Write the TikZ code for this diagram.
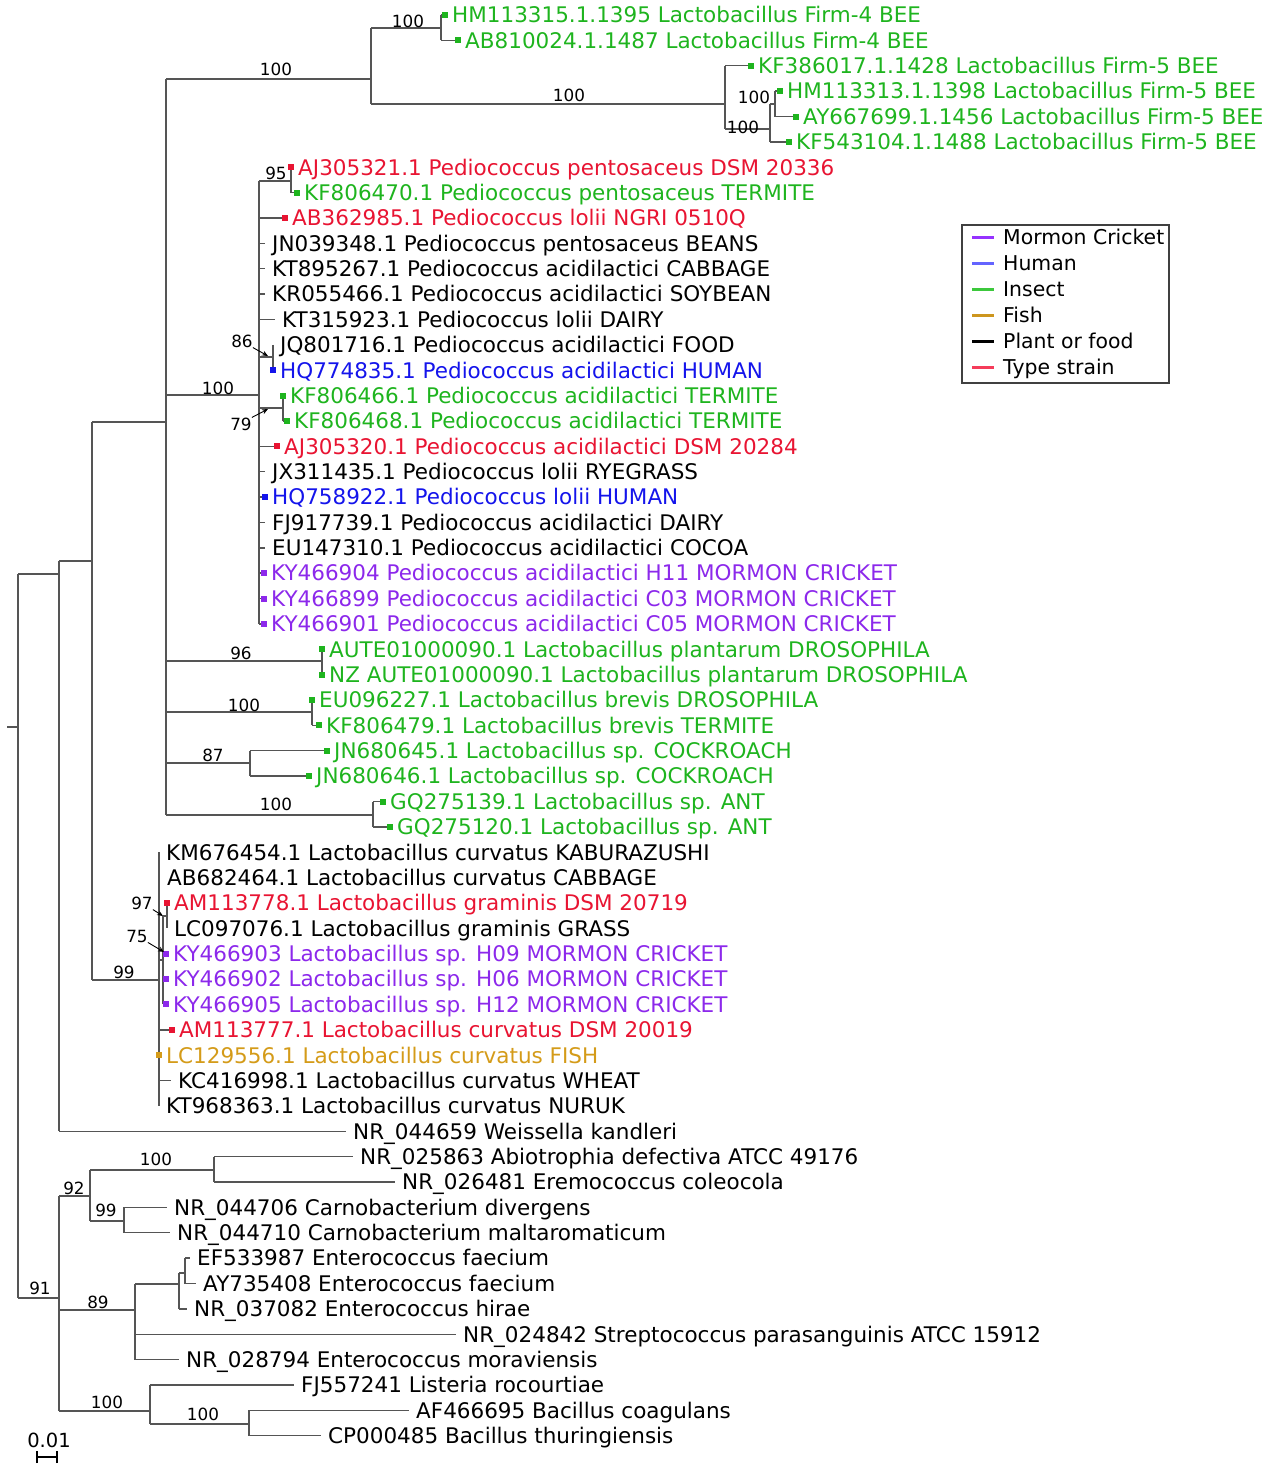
\documentclass[tikz,border=0pt]{standalone}
\usepackage{fontspec}
\setmainfont{DejaVu Sans}
\usetikzlibrary{arrows.meta}
\definecolor{cgreen}{RGB}{30,180,30}
\definecolor{cred}{RGB}{232,20,50}
\definecolor{cblue}{RGB}{20,20,235}
\definecolor{cpurple}{RGB}{140,40,235}
\definecolor{corange}{RGB}{212,155,25}
\definecolor{treegray}{RGB}{85,85,85}
\definecolor{lpurple}{RGB}{150,50,255}
\definecolor{lblue}{RGB}{100,100,255}
\definecolor{lgreen}{RGB}{60,200,60}
\definecolor{lorange}{RGB}{205,150,30}
\definecolor{lred}{RGB}{245,60,90}
\newcommand\leaffont{\fontsize{21.5}{25}\selectfont}
\newcommand\suppfont{\fontsize{16.8}{20}\selectfont}
\newcommand\legfont{\fontsize{20.4}{24}\selectfont}
\newcommand\scalefont{\fontsize{19.5}{22}\selectfont}
\tikzset{
  br/.style={draw=treegray, line width=1.4pt},
  leaflab/.style={anchor=base west, inner sep=0pt, font=\leaffont},
  supp/.style={font=\suppfont, inner sep=0pt, text=black},
  mk/.style={rectangle, inner sep=0pt, minimum size=6pt},
  arr/.style={draw=black, line width=0.9pt, -{Stealth[length=6pt,width=5pt]}},
  legline/.style={line width=3pt},
  leglab/.style={anchor=base west, inner sep=0pt, font=\legfont},
}
% leaf without marker: name, parent, end x, y, colour, text
\newcommand\lfn[6]{%
  \coordinate (#1) at (#3,#4);
  \draw[br] (#2 |- #1) -- (#1);
  \node[leaflab, text=#5] (#1t) at (#3+7,#4+7.8) {#6};}
% leaf with marker
\newcommand\lfm[6]{%
  \coordinate (#1) at (#3,#4);
  \draw[br] (#2 |- #1) -- (#1);
  \node[leaflab, text=#5] (#1t) at (#3+7,#4+7.8) {#6};}
\newcommand\edge[2]{\draw[br] (#1 |- #2) -- (#2);}
\newcommand\vspan[3]{\draw[br] (#1 |- #2) -- (#1 |- #3);}
\newcommand\legent[4]{%
  \coordinate (#1a) at (972,#2);
  \coordinate (#1b) at (994,#2);
  \draw[legline, #3] (#1a) -- (#1b);
  \node[leglab] (#1t) at (1003,#2+7.4) {#4};}
\begin{document}
\begin{tikzpicture}[x=1pt,y=-1pt]
\useasboundingbox (0,0) rectangle (1267,1470);
% internal nodes
\coordinate (Rs) at (7,727);
\coordinate (R) at (18,727);
\coordinate (A) at (59,574);
\coordinate (B) at (92,561);
\coordinate (C) at (166,422);
\coordinate (D) at (371,79);
\coordinate (D1) at (441,28);
\coordinate (D2) at (725,104);
\coordinate (D3) at (770,129);
\coordinate (D4) at (775,104);
\coordinate (P) at (259,395);
\coordinate (P95) at (291,181);
\coordinate (P86) at (273,357);
\coordinate (P79) at (283,408);
\coordinate (PL) at (322,661);
\coordinate (BR) at (312,712);
\coordinate (CK) at (250,763);
\coordinate (AN) at (373,815);
\coordinate (L) at (159,980);
\coordinate (L75) at (163,960);
\coordinate (L97) at (167,916);
\coordinate (E) at (59,1298);
\coordinate (F) at (90,1196);
\coordinate (F1) at (214,1170);
\coordinate (F2) at (124,1221);
\coordinate (G) at (135,1310);
\coordinate (G1) at (179,1284);
\coordinate (G2) at (185,1273);
\coordinate (H) at (150,1411);
\coordinate (H1) at (249,1424);
% leaves
\lfm{l1}{D1}{445}{15.0}{cgreen}{HM113315.1.1395 Lactobacillus Firm-4 BEE}
\lfm{l2}{D1}{458}{40.4}{cgreen}{AB810024.1.1487 Lactobacillus Firm-4 BEE}
\lfm{l3}{D2}{751}{65.7}{cgreen}{KF386017.1.1428 Lactobacillus Firm-5 BEE}
\lfm{l4}{D4}{780}{91.1}{cgreen}{HM113313.1.1398 Lactobacillus Firm-5 BEE}
\lfm{l5}{D4}{796}{116.5}{cgreen}{AY667699.1.1456 Lactobacillus Firm-5 BEE}
\lfm{l6}{D3}{789}{141.9}{cgreen}{KF543104.1.1488 Lactobacillus Firm-5 BEE}
\lfm{l7}{P95}{291}{167.2}{cred}{AJ305321.1 Pediococcus pentosaceus DSM 20336}
\lfm{l8}{P95}{297}{192.6}{cgreen}{KF806470.1 Pediococcus pentosaceus TERMITE}
\lfm{l9}{P}{285}{218.0}{cred}{AB362985.1 Pediococcus lolii NGRI 0510Q}
\lfn{l10}{P}{265}{243.3}{black}{JN039348.1 Pediococcus pentosaceus BEANS}
\lfn{l11}{P}{265}{268.7}{black}{KT895267.1 Pediococcus acidilactici CABBAGE}
\lfn{l12}{P}{265}{294.1}{black}{KR055466.1 Pediococcus acidilactici SOYBEAN}
\lfn{l13}{P}{275}{319.4}{black}{KT315923.1 Pediococcus lolii DAIRY}
\lfn{l14}{P86}{273}{344.8}{black}{JQ801716.1 Pediococcus acidilactici FOOD}
\lfm{l15}{P86}{273}{370.2}{cblue}{HQ774835.1 Pediococcus acidilactici HUMAN}
\lfm{l16}{P79}{283}{395.6}{cgreen}{KF806466.1 Pediococcus acidilactici TERMITE}
\lfm{l17}{P79}{287}{420.9}{cgreen}{KF806468.1 Pediococcus acidilactici TERMITE}
\lfm{l18}{P}{277}{446.3}{cred}{AJ305320.1 Pediococcus acidilactici DSM 20284}
\lfn{l19}{P}{265}{471.7}{black}{JX311435.1 Pediococcus lolii RYEGRASS}
\lfm{l20}{P}{265}{497.0}{cblue}{HQ758922.1 Pediococcus lolii HUMAN}
\lfn{l21}{P}{265}{522.4}{black}{FJ917739.1 Pediococcus acidilactici DAIRY}
\lfn{l22}{P}{265}{547.8}{black}{EU147310.1 Pediococcus acidilactici COCOA}
\lfm{l23}{P}{264}{573.1}{cpurple}{KY466904 Pediococcus acidilactici H11 MORMON CRICKET}
\lfm{l24}{P}{264}{598.5}{cpurple}{KY466899 Pediococcus acidilactici C03 MORMON CRICKET}
\lfm{l25}{P}{264}{623.9}{cpurple}{KY466901 Pediococcus acidilactici C05 MORMON CRICKET}
\lfm{l26}{PL}{322}{649.3}{cgreen}{AUTE01000090.1 Lactobacillus plantarum DROSOPHILA}
\lfm{l27}{PL}{322}{674.6}{cgreen}{NZ AUTE01000090.1 Lactobacillus plantarum DROSOPHILA}
\lfm{l28}{BR}{312}{700.0}{cgreen}{EU096227.1 Lactobacillus brevis DROSOPHILA}
\lfm{l29}{BR}{319}{725.4}{cgreen}{KF806479.1 Lactobacillus brevis TERMITE}
\lfm{l30}{CK}{327}{750.7}{cgreen}{JN680645.1 Lactobacillus sp. COCKROACH}
\lfm{l31}{CK}{309}{776.1}{cgreen}{JN680646.1 Lactobacillus sp. COCKROACH}
\lfm{l32}{AN}{383}{801.5}{cgreen}{GQ275139.1 Lactobacillus sp. ANT}
\lfm{l33}{AN}{390}{826.8}{cgreen}{GQ275120.1 Lactobacillus sp. ANT}
\lfn{l34}{L}{159}{852.2}{black}{KM676454.1 Lactobacillus curvatus KABURAZUSHI}
\lfn{l35}{L}{160}{877.6}{black}{AB682464.1 Lactobacillus curvatus CABBAGE}
\lfm{l36}{L97}{167}{902.9}{cred}{AM113778.1 Lactobacillus graminis DSM 20719}
\lfn{l37}{L97}{167}{928.3}{black}{LC097076.1 Lactobacillus graminis GRASS}
\lfm{l38}{L75}{166}{953.7}{cpurple}{KY466903 Lactobacillus sp. H09 MORMON CRICKET}
\lfm{l39}{L75}{166}{979.1}{cpurple}{KY466902 Lactobacillus sp. H06 MORMON CRICKET}
\lfm{l40}{L75}{166}{1004.4}{cpurple}{KY466905 Lactobacillus sp. H12 MORMON CRICKET}
\lfm{l41}{L}{172}{1029.8}{cred}{AM113777.1 Lactobacillus curvatus DSM 20019}
\lfm{l42}{L}{159}{1055.2}{corange}{LC129556.1 Lactobacillus curvatus FISH}
\lfn{l43}{L}{171}{1080.5}{black}{KC416998.1 Lactobacillus curvatus WHEAT}
\lfn{l44}{L}{159}{1105.9}{black}{KT968363.1 Lactobacillus curvatus NURUK}
\lfn{l45}{A}{346}{1131.3}{black}{NR\_044659 Weissella kandleri}
\lfn{l46}{F1}{353}{1156.6}{black}{NR\_025863 Abiotrophia defectiva ATCC 49176}
\lfn{l47}{F1}{395}{1182.0}{black}{NR\_026481 Eremococcus coleocola}
\lfn{l48}{F2}{167}{1207.4}{black}{NR\_044706 Carnobacterium divergens}
\lfn{l49}{F2}{170}{1232.7}{black}{NR\_044710 Carnobacterium maltaromaticum}
\lfn{l50}{G2}{190}{1258.1}{black}{EF533987 Enterococcus faecium}
\lfn{l51}{G2}{196}{1283.5}{black}{AY735408 Enterococcus faecium}
\lfn{l52}{G1}{187}{1308.9}{black}{NR\_037082 Enterococcus hirae}
\lfn{l53}{G}{456}{1334.2}{black}{NR\_024842 Streptococcus parasanguinis ATCC 15912}
\lfn{l54}{G}{179}{1359.6}{black}{NR\_028794 Enterococcus moraviensis}
\lfn{l55}{H}{294}{1385.0}{black}{FJ557241 Listeria rocourtiae}
\lfn{l56}{H1}{409}{1410.3}{black}{AF466695 Bacillus coagulans}
\lfn{l57}{H1}{321}{1435.7}{black}{CP000485 Bacillus thuringiensis}
% internal edges
\draw[br] (Rs) -- (R);
\edge{R}{A}\edge{R}{E}\edge{A}{B}\edge{B}{C}\edge{B}{L}
\edge{C}{D}\edge{C}{P}\edge{C}{PL}\edge{C}{BR}\edge{C}{CK}\edge{C}{AN}
\edge{D}{D1}\edge{D}{D2}\edge{D2}{D3}\edge{D3}{D4}
\edge{P}{P95}\edge{P}{P86}\edge{P}{P79}
\edge{L}{L75}\edge{L75}{L97}
\edge{E}{F}\edge{E}{G}\edge{E}{H}\edge{F}{F1}\edge{F}{F2}
\edge{G}{G1}\edge{G1}{G2}\edge{H}{H1}
% verticals
\vspan{R}{A}{E}
\vspan{A}{B}{l45}
\vspan{B}{C}{L}
\vspan{C}{D}{AN}
\vspan{D}{D1}{D2}
\vspan{D1}{l1}{l2}
\vspan{D2}{l3}{D3}
\vspan{D3}{D4}{l6}
\vspan{D4}{l4}{l5}
\vspan{P}{P95}{l25}
\vspan{P95}{l7}{l8}
\vspan{P86}{l14}{l15}
\vspan{P79}{l16}{l17}
\vspan{PL}{l26}{l27}
\vspan{BR}{l28}{l29}
\vspan{CK}{l30}{l31}
\vspan{AN}{l32}{l33}
\vspan{L}{l34}{l44}
\vspan{L75}{L97}{l40}
\vspan{L97}{l36}{l37}
\vspan{E}{F}{H}
\vspan{F}{F1}{F2}
\vspan{F1}{l46}{l47}
\vspan{F2}{l48}{l49}
\vspan{G}{G1}{l54}
\vspan{G1}{G2}{l52}
\vspan{G2}{l50}{l51}
\vspan{H}{l55}{H1}
\vspan{H1}{l56}{l57}
% leaf markers on top of the lines
\foreach \m/\c in {l1/cgreen,l2/cgreen,l3/cgreen,l4/cgreen,l5/cgreen,l6/cgreen,l7/cred,l8/cgreen,l9/cred,l15/cblue,l16/cgreen,l17/cgreen,l18/cred,l20/cblue,l23/cpurple,l24/cpurple,l25/cpurple,l26/cgreen,l27/cgreen,l28/cgreen,l29/cgreen,l30/cgreen,l31/cgreen,l32/cgreen,l33/cgreen,l36/cred,l38/cpurple,l39/cpurple,l40/cpurple,l41/cred,l42/corange}
  \node[mk, fill=\c] (\m m) at (\m) {};
% support values
\node[supp] (s1) at (276,69) {100};
\node[supp] (s2) at (408,21) {100};
\node[supp] (s3) at (569,95) {100};
\node[supp] (s4) at (754,97) {100};
\node[supp] (s5) at (743,127) {100};
\node[supp] (s95) at (276,173) {95};
\node[supp] (s86) at (242,341) {86};
\node[supp] (s6) at (218,388) {100};
\node[supp] (s79) at (241,424) {79};
\node[supp] (s96) at (241,653) {96};
\node[supp] (s7) at (244,705) {100};
\node[supp] (s87) at (213,755) {87};
\node[supp] (s8) at (276,804) {100};
\node[supp] (s97) at (142,903) {97};
\node[supp] (s75) at (137,936) {75};
\node[supp] (s99a) at (124,972) {99};
\node[supp] (s9) at (156,1159) {100};
\node[supp] (s92) at (74,1188) {92};
\node[supp] (s99b) at (106,1210) {99};
\node[supp] (s91) at (40,1288) {91};
\node[supp] (s89) at (98,1302) {89};
\node[supp] (s10) at (107,1402) {100};
\node[supp] (s11) at (203,1414) {100};
% pointer arrows
\coordinate (t86) at (268,356);
\coordinate (t79) at (268,409);
\coordinate (t97) at (163,916);
\coordinate (t75) at (164,952);
\draw[arr] (s86.south east) -- (t86);
\draw[arr] (s79.north east) -- (t79);
\draw[arr] (s97.south east) -- (t97);
\draw[arr] (s75.south east) -- (t75);
% scale bar
\node[inner sep=0pt, font=\scalefont] (sclab) at (49,1440) {0.01};
\coordinate (sb1) at (37,1457);
\coordinate (sb2) at (57,1457);
\draw[black, line width=1.4pt] (sb1) -- (sb2);
\draw[black, line width=1.4pt] ([yshift=-6pt]sb1) -- ([yshift=6pt]sb1);
\draw[black, line width=1.4pt] ([yshift=-6pt]sb2) -- ([yshift=6pt]sb2);
% legend
\coordinate (lg1) at (962,225);
\coordinate (lg2) at (1169,383);
\draw[draw=black!75, line width=1.3pt] (lg1) rectangle (lg2);
\legent{e1}{237}{lpurple}{Mormon Cricket}
\legent{e2}{263}{lblue}{Human}
\legent{e3}{289}{lgreen}{Insect}
\legent{e4}{315}{lorange}{Fish}
\legent{e5}{341}{black}{Plant or food}
\legent{e6}{367}{lred}{Type strain}
\end{tikzpicture}
\end{document}
